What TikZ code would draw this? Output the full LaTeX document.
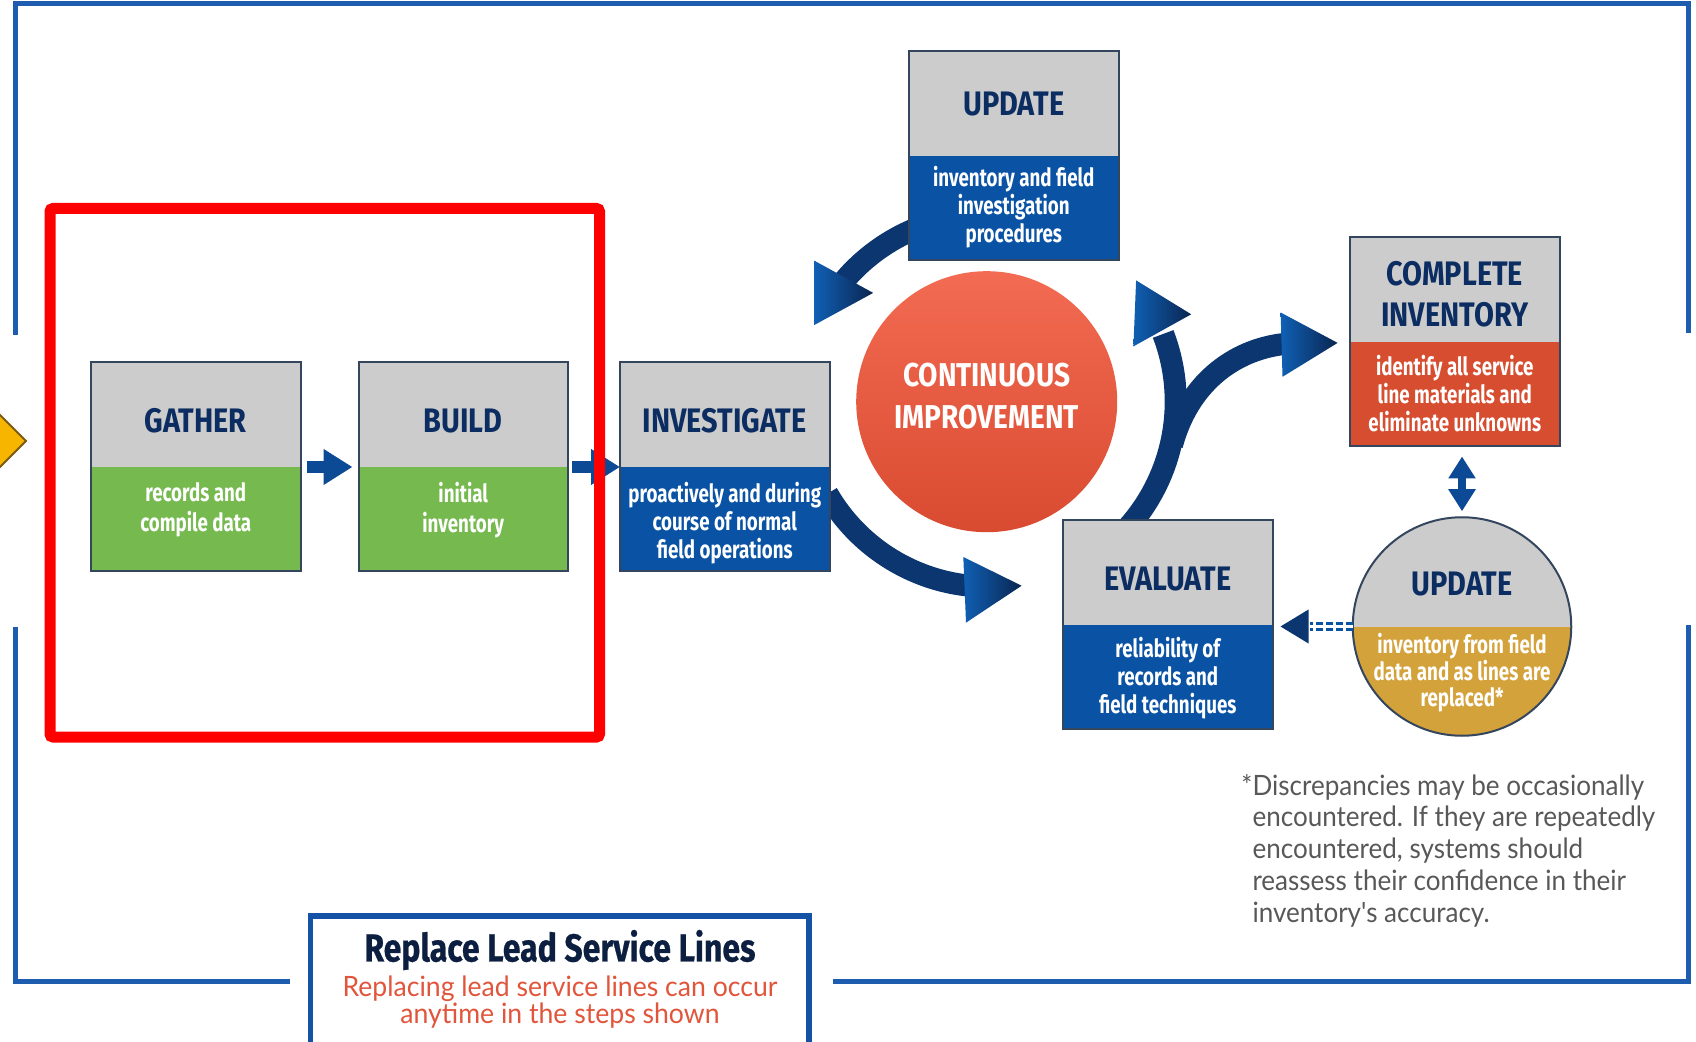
\documentclass[tikz,border=0pt]{standalone}
\usepackage{fontspec}
\usetikzlibrary{arrows.meta,calc}
\newfontfamily\headf{Fira Sans}[FakeStretch=0.85]
\newfontfamily\titlef{Fira Sans}[FakeStretch=0.82, FakeBold=0.6]
\newfontfamily\bodyf{Fira Sans}[FakeStretch=0.75]
\newfontfamily\notef{Lato}[FakeStretch=0.93]
\newfontfamily\subf{Lato}[FakeStretch=0.95]

\definecolor{frame}{HTML}{1D5CAE}
\definecolor{hdrgray}{HTML}{CCCCCC}
\definecolor{leafgreen}{HTML}{75B94F}
\definecolor{stepblue}{HTML}{0A53A4}
\definecolor{rust}{HTML}{D64D30}
\definecolor{gold}{HTML}{D4A23A}
\definecolor{navy}{HTML}{0B2D62}
\definecolor{ink}{HTML}{0C1F40}
\definecolor{arrowblue}{HTML}{1060B4}
\definecolor{arrowdark}{HTML}{0A2550}
\definecolor{arrowmid}{HTML}{0D4A96}
\definecolor{shaft}{HTML}{0B3670}
\definecolor{coral}{HTML}{F26B52}
\definecolor{coraldark}{HTML}{D94B31}
\definecolor{notegray}{HTML}{585858}
\definecolor{subred}{HTML}{E0553B}
\definecolor{boxline}{HTML}{34465E}
\definecolor{marker}{HTML}{FF0000}
\definecolor{diamondfill}{HTML}{F7B500}
\definecolor{diamondline}{HTML}{7A5A10}
\definecolor{rlline}{HTML}{1452A5}

% one step: grey title block over a coloured description block
% #1 name, #2 corner, #3 title, #4 title drop, #5 text, #6 text drop, #7 fill
\newcommand\mkstep[7]{%
  \node[hdr, anchor=north west] (#1h) at #2 {};
  \node[bodybox, fill=#7, anchor=north] (#1b) at (#1h.south) {};
  \node[hdrtxt] (#1t) at ($(#1h.center)+(0,#4)$) {#3};
  \node[bodytxt] (#1d) at ($(#1b.center)+(0,#6)$) {#5};
  \draw[boxline, line width=1pt] (#1h.north west) rectangle (#1b.south east);
}

\begin{document}
\begin{tikzpicture}[x=0.5pt, y=-0.5pt,
  every node/.style={outer sep=0pt},
  hdrfont/.style={font=\headf\bfseries\fontsize{17}{20.5}\selectfont},
  txtfont/.style={font=\bodyf\bfseries\fontsize{12.5}{14}\selectfont},
  hdr/.style={fill=hdrgray, inner sep=0pt, minimum height=52.5pt, minimum width=104.75pt},
  bodybox/.style={inner sep=0pt, minimum height=52pt, minimum width=104.75pt},
  hdrtxt/.style={hdrfont, text=navy, inner sep=0pt, align=center},
  bodytxt/.style={txtfont, text=white, inner sep=0pt, align=center},
  frameline/.style={draw=frame, line width=2.5pt},
  shaftline/.style={draw=shaft, line width=11pt},
  headfill/.style={left color=arrowblue, right color=arrowdark},
  blockarrow/.style={draw=arrowmid, line width=5.75pt,
    -{Triangle[width=17pt,length=14.5pt]}},
]
\useasboundingbox (0,0) rectangle (1696,1042);
\clip (0,0) rectangle (1696,1042);

% outer frame
\draw[frameline] (15,335) -- (15,4) -- (1688,4) -- (1688,333);
\draw[frameline] (15,627) -- (15,981) -- (290,981);
\draw[frameline] (833,981) -- (1688,981) -- (1688,625);

% entry marker on the left edge
\filldraw[fill=diamondfill, draw=diamondline, line width=1pt]
  (-34,441) -- (-4,411) -- (26,441) -- (-4,471) -- cycle;

% centre of the improvement cycle
\coordinate (c) at (986.7,401.7);

% cycle arrows around the centre
\draw[shaftline] (c) ++(-112:187) arc[start angle=-112, end angle=-140, radius=187];
\shade[headfill] (814.3,260.7) -- (873.2,292.9) -- (814.3,325) -- cycle;

\draw[shaftline] (c) ++(150:184) arc[start angle=150, end angle=96, radius=186];
\shade[headfill] (963.3,557) -- (1021.6,585.7) -- (966,622.7) -- cycle;

\draw[shaftline] (c) ++(42:189) arc[start angle=42, end angle=-21, radius=189];
\shade[headfill] (1136.1,280.4) -- (1191.2,314.3) -- (1133.4,346.4) -- cycle;

\draw[shaftline] (1172,445) .. controls (1188,385) and (1232,350) .. (1284,344);
\shade[headfill] (1280.6,312.5) -- (1337.6,342.9) -- (1282.5,376.8) -- cycle;

% step boxes
\mkstep{ga}{(91,362)}{GATHER}{6.5}{records and\\[1.2pt]compile data}{-9}{leafgreen}
\mkstep{bu}{(358.5,362)}{BUILD}{6.5}{initial\\[1.2pt]inventory}{-9}{leafgreen}
\mkstep{inv}{(620,362)}{INVESTIGATE}{6.5}{proactively and during\\course of normal\\field operations}{4}{stepblue}
\mkstep{up}{(909,51)}{UPDATE}{1}{inventory and field\\investigation\\procedures}{-1}{stepblue}
\mkstep{ev}{(1063,520)}{EVALUATE}{7}{reliability of\\records and\\field techniques}{1}{stepblue}
\mkstep{co}{(1350,237.5)}{COMPLETE\\INVENTORY}{4}{identify all service\\line materials and\\eliminate unknowns}{-1}{rust}

% straight flow arrows
\draw[blockarrow, shorten <=3pt, shorten >=3pt] (gah.south east) -- (buh.south west);
\draw[blockarrow, shorten <=2pt] (buh.south east) -- (invh.south west);

% continuous improvement hub
\node[circle, minimum size=130.5pt, inner sep=0pt, top color=coral, bottom color=coraldark] (ci) at (c) {};
\node[text=white, align=center, inner sep=0pt, font=\headf\bfseries\fontsize{16.5}{21}\selectfont]
  (cit) at ($(c)+(0,-5.5)$) {CONTINUOUS\\IMPROVEMENT};

% field update circle
\node[circle, minimum size=109.25pt, inner sep=0pt, draw=boxline, line width=1pt, fill=hdrgray,
  path picture={\fill[gold] (path picture bounding box.west) rectangle (path picture bounding box.south east);}]
  (u2) at (1462,626.5) {};
\node[hdrtxt] (u2t) at (1462,584) {UPDATE};
\node[bodytxt, font=\bodyf\bfseries\fontsize{12.5}{13.3}\selectfont] (u2b) at (1462,673) {inventory from field\\data and as lines are\\replaced*};

% link between complete inventory and field update
\draw[draw=arrowmid, line width=4pt,
  {Triangle[width=13pt,length=11pt]}-{Triangle[width=13pt,length=11pt]},
  shorten <=5pt, shorten >=3pt] (u2.north |- cob.south) -- (u2.north);

% dashed feedback into evaluation
\coordinate (evin) at (evb.east |- u2.west);
\draw[stepblue, line width=1.25pt, double=white, double distance=1.75pt,
  dash pattern=on 3.5pt off 1.5pt] (u2.west) -- ($(evin)+(37,0)$);
\fill[shaft] ($(evin)+(8,0)$) -- ++(28,-17) -- ++(0,34) -- cycle;

% highlighted starting steps
\node[draw=marker, line width=5.5pt, rounded corners=1.5pt, inner sep=0pt,
  minimum width=274.75pt, minimum height=264.25pt, anchor=north west] (mark) at (50,208.5) {};

% footnote
\node[anchor=north west, inner sep=0pt, align=left, text=notegray,
  font=\notef\fontsize{14}{15.9}\selectfont] (note) at (1252.5,774)
  {\llap{*}Discrepancies may be occasionally\\
   encountered. If they are repeatedly\\
   encountered, systems should\\
   reassess their confidence in their\\
   inventory's accuracy.};

% replacement banner
\draw[draw=rlline, line width=2.75pt] (310.5,1060) -- (310.5,916) -- (809,916) -- (809,1060);
\node[text=ink, inner sep=0pt, font=\titlef\bfseries\fontsize{19.5}{22}\selectfont] (rlt) at (560,950)
  {Replace Lead Service Lines};
\node[text=subred, align=center, inner sep=0pt, font=\subf\fontsize{14}{13.5}\selectfont] (rls) at (560,1002)
  {Replacing lead service lines can occur\\anytime in the steps shown};
\end{tikzpicture}
\end{document}
